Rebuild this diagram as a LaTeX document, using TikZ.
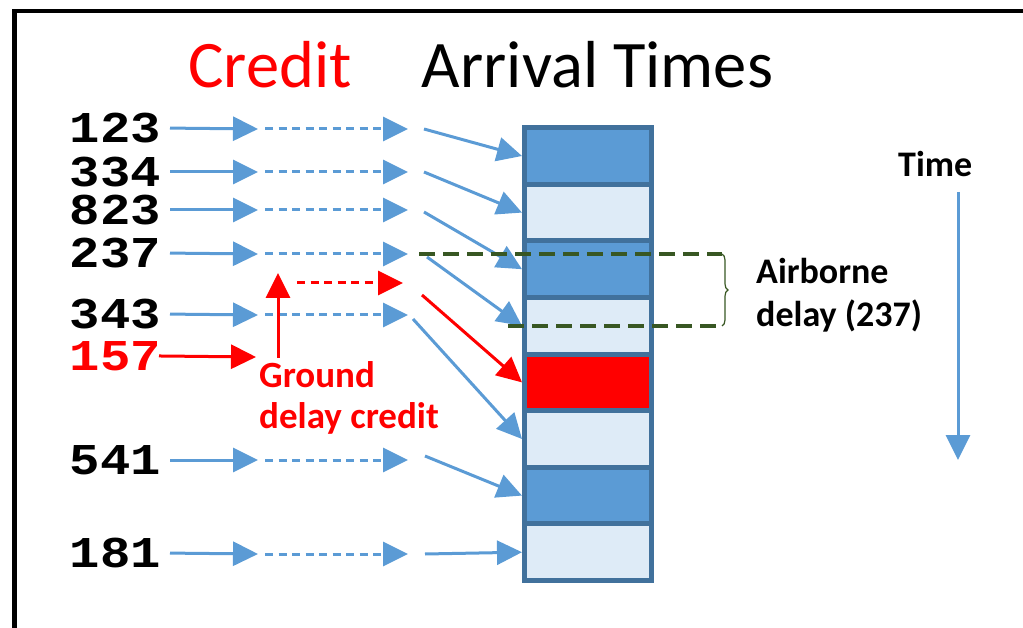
\documentclass[tikz,border=0pt]{standalone}
\usepackage{fontspec}
\setmainfont{Carlito}
\newfontfamily\numfont[FakeStretch=1.15]{Liberation Mono}
\usetikzlibrary{arrows.meta,decorations.pathreplacing}
\definecolor{arrblue}{HTML}{5B9BD5}
\definecolor{cellborder}{HTML}{41719C}
\definecolor{celllight}{HTML}{DEEBF7}
\definecolor{boxgreen}{HTML}{385723}
\tikzset{
  num/.style={anchor=east, inner sep=0pt, font=\fontsize{44}{44}\numfont\bfseries},
  title/.style={inner sep=0pt, font=\fontsize{66.5}{66.5}\selectfont},
  redtxt/.style={red, align=left, inner sep=0pt, font=\fontsize{37}{41}\selectfont\bfseries},
  blacktxt/.style={align=left, inner sep=0pt, font=\fontsize{36}{43}\selectfont\bfseries},
  cell/.style={draw=cellborder, line width=5pt, minimum width=127pt, minimum height=56.6pt, inner sep=0pt},
  solidarr/.style={arrblue, line width=3pt, -{Triangle[length=25pt,width=24pt]}},
  dasharr/.style={solidarr, line width=3pt, dash pattern=on 8pt off 5.5pt},
  redarr/.style={solidarr, red},
  reddash/.style={dasharr, red},
  grndash/.style={boxgreen, line width=4.5pt, dash pattern=on 16pt off 8pt},
  grnbrace/.style={boxgreen, line width=1.2pt, decorate, decoration={brace, amplitude=6pt}}
}
\begin{document}
\begin{tikzpicture}[x=1pt, y=-1pt]
      \useasboundingbox (0,0) rectangle (1023,628);
      \draw[line width=4.5pt] (14.4,628) -- (14.4,11.2) -- (1023,11.2);

      \node[title, red, anchor=base] (credit) at (270,88) {Credit};
      \node[title, anchor=base] (arrival) at (597.5,88) {Arrival Times};

      \node[cell, fill=arrblue] (cell1) at (588,156) {};
      \node[cell, fill=celllight] (cell2) at (588,212.6) {};
      \node[cell, fill=arrblue] (cell3) at (588,269.2) {};
      \node[cell, fill=celllight] (cell4) at (588,325.8) {};
      \node[cell, fill=red] (cell5) at (588,382.4) {};
      \node[cell, fill=celllight] (cell6) at (588,439) {};
      \node[cell, fill=arrblue] (cell7) at (588,495.6) {};
      \node[cell, fill=celllight] (cell8) at (588,552.2) {};

      \node[num] (n123) at (161,128) {123};
      \node[num] (n334) at (161,172) {334};
      \node[num] (n823) at (161,210) {823};
      \node[num] (n237) at (161,253) {237};
      \node[num] (n343) at (161,314) {343};
      \node[num, red] (n157) at (161,356) {157};
      \node[num] (n541) at (161,460) {541};
      \node[num] (n181) at (161,553) {181};

      \path (258,129) coordinate (a123) (265,129) coordinate (b123) (408,129) coordinate (c123) (424,129) coordinate (d123);
      \path (258,172) coordinate (a334) (265,172) coordinate (b334) (408,172) coordinate (c334) (424,172) coordinate (d334);
      \path (258,210) coordinate (a823) (265,210) coordinate (b823) (408,210) coordinate (c823) (424,212) coordinate (d823);
      \path (258,254) coordinate (a237) (265,254) coordinate (b237) (408,254) coordinate (c237) (427,257) coordinate (d237);
      \path (258,315) coordinate (a343) (265,315) coordinate (b343) (408,315) coordinate (c343) (413,319) coordinate (d343);
      \path (258,460) coordinate (a541) (265,460) coordinate (b541) (408,460) coordinate (c541) (425,456) coordinate (d541);
      \path (258,554) coordinate (a181) (265,554) coordinate (b181) (408,554) coordinate (c181) (425,554) coordinate (d181);

      \draw[solidarr, shorten <=9pt] (n123.east) to (a123);
      \draw[dasharr] (b123) to (c123);
      \draw[solidarr] (d123) to (cell1.west);
      \draw[solidarr, shorten <=9pt] (n334.east) to (a334);
      \draw[dasharr] (b334) to (c334);
      \draw[solidarr] (d334) to (cell2.west);
      \draw[solidarr, shorten <=9pt] (n823.east) to (a823);
      \draw[dasharr] (b823) to (c823);
      \draw[solidarr] (d823) to (cell3.west);
      \draw[solidarr, shorten <=9pt] (n237.east) to (a237);
      \draw[dasharr] (b237) to (c237);
      \draw[solidarr] (d237) to (cell4.west);
      \draw[solidarr, shorten <=9pt] (n343.east) to (a343);
      \draw[dasharr] (b343) to (c343);
      \draw[solidarr] (d343) to (cell6.west);
      \draw[solidarr, shorten <=9pt] (n541.east) to (a541);
      \draw[dasharr] (b541) to (c541);
      \draw[solidarr] (d541) to (cell7.west);
      \draw[solidarr, shorten <=9pt] (n181.east) to (a181);
      \draw[dasharr] (b181) to (c181);
      \draw[solidarr] (d181) to (cell8.west);

      \node[redtxt, anchor=north west] (ground) at (259,361) {Ground\\delay credit};
      \path (256,357) coordinate (r157) (278,358) coordinate (rv1) (278,273) coordinate (rv2);
      \path (297,283) coordinate (rd1) (403,283) coordinate (rd2) (422,295) coordinate (rd3);
      \draw[redarr, shorten <=-2pt] (n157.east) to (r157);
      \draw[redarr] (rv1) to (rv2);
      \draw[reddash] (rd1) to (rd2);
      \draw[redarr] (rd3) to (cell5.west);

      \path (419,254) coordinate (g1) (722,254) coordinate (g2) (508,326) coordinate (g3) (722,326) coordinate (g4);
      \draw[grndash] (g1) to (g2);
      \draw[grndash] (g3) to (g4);
      \draw[grnbrace] (g2) to (g4);
      \node[blacktxt, anchor=north west] (airborne) at (756,258) {Airborne\\delay (237)};

      \node[blacktxt, anchor=base west] (time) at (898,177) {Time};
      \path (958,192) coordinate (t1) (958,460) coordinate (t2);
      \draw[solidarr] (t1) to (t2);
\end{tikzpicture}
\end{document}
